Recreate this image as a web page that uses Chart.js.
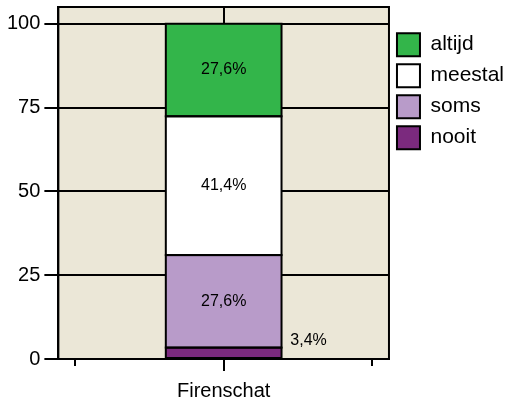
<!DOCTYPE html>
<html>
<head>
<meta charset="utf-8">
<script src="https://cdn.jsdelivr.net/npm/chart.js@4"></script>
<style>
  html, body { margin: 0; padding: 0; background: #fff; }
  #wrap { width: 506px; height: 403px; }
</style>
</head>
<body>
<div id="wrap"><canvas id="chart" width="506" height="403"></canvas></div>
<script>
const categories = ["Firenschat"];
const seriesNames = ["nooit", "soms", "meestal", "altijd"];
const nooit = [3.4];
const soms = [27.6];
const meestal = [41.4];
const altijd = [27.6];
const yTicks = [0, 25, 50, 75, 100];

const colors = {
    nooit: "#7b2a7e",
    soms: "#b89bc9",
    meestal: "#ffffff",
    altijd: "#33b54a",
};
const values = { nooit, soms, meestal, altijd };
const FONT = "'Liberation Sans', Arial, Helvetica, sans-serif";

// Plot background + frame
const framePlugin = {
    id: "frame",
    beforeDraw(chart) {
        const { ctx, chartArea: a } = chart;
        ctx.save();
        ctx.fillStyle = "#ebe7d7";
        ctx.fillRect(a.left, a.top, a.right - a.left, a.bottom - a.top);
        ctx.restore();
    },
    afterDraw(chart) {
        const { ctx, chartArea: a } = chart;
        ctx.save();
        ctx.strokeStyle = "#000";
        ctx.lineWidth = 2;
        ctx.strokeRect(a.left, a.top, a.right - a.left, a.bottom - a.top);
        // small extra ticks under the x axis
        const xs = chart.scales.x;
        const c = xs.getPixelForTick(0);
        const half = (a.right - a.left) * 0.45;
        ctx.beginPath();
        [c - half, c + half].forEach(x => {
            ctx.moveTo(Math.round(x), a.bottom);
            ctx.lineTo(Math.round(x), a.bottom + 7);
        });
        ctx.stroke();
        ctx.restore();
    },
};

// Outlines and percent labels on the segments
const labelPlugin = {
    id: "segLabels",
    afterDatasetsDraw(chart) {
        const { ctx } = chart;
        ctx.save();
        ctx.strokeStyle = "#000";
        ctx.lineWidth = 2;
        chart.data.datasets.forEach((ds, i) => {
            chart.getDatasetMeta(i).data.forEach(bar => {
                const l = bar.x - bar.width / 2;
                ctx.strokeRect(l, Math.min(bar.y, bar.base), bar.width, Math.abs(bar.base - bar.y));
            });
        });
        ctx.font = "16px " + FONT;
        ctx.fillStyle = "#000";
        ctx.textAlign = "center";
        ctx.textBaseline = "middle";
        chart.data.datasets.forEach((ds, i) => {
            const meta = chart.getDatasetMeta(i);
            meta.data.forEach((bar, j) => {
                const v = ds.data[j];
                const txt = v.toFixed(1).replace(".", ",") + "%";
                const mid = (bar.y + bar.base) / 2;
                if (v < 10) {
                    ctx.fillText(txt, bar.x + bar.width / 2 + 27, mid - 12);
                } else {
                    ctx.fillText(txt, bar.x, mid);
                }
            });
        });
        ctx.restore();
    },
};

new Chart(document.getElementById("chart"), {
    type: "bar",
    data: {
        labels: categories,
        datasets: seriesNames.map(name => ({
            label: name,
            data: values[name],
            backgroundColor: colors[name],
            borderWidth: 0,
            categoryPercentage: 1,
            barPercentage: 0.35,
        })),
    },
    options: {
        responsive: false,
        animation: false,
        layout: { padding: { top: 7, left: 3, right: -8, bottom: -8 } },
        plugins: {
            legend: {
                position: "right",
                align: "start",
                reverse: true,
                title: {
                    display: true,
                    text: "",
                    font: { size: 1 },
                    padding: { top: 17, bottom: 0 },
                },
                labels: {
                    boxWidth: 23,
                    boxHeight: 23,
                    padding: 8,
                    color: "#000",
                    font: { family: FONT, size: 21 },
                    generateLabels(chart) {
                        const items = Chart.defaults.plugins.legend.labels.generateLabels(chart);
                        return items.map(it => ({ ...it, strokeStyle: "#000", lineWidth: 2 }));
                    },
                },
            },
            tooltip: { enabled: false },
        },
        scales: {
            x: {
                stacked: true,
                afterFit(scale) {
                    scale.paddingLeft = 0;
                    scale.paddingRight = 0;
                },
                grid: {
                    offset: false,
                    color: "#000",
                    lineWidth: 2,
                    tickLength: 12,
                },
                border: { display: true, color: "#000", width: 2 },
                ticks: {
                    color: "#000",
                    font: { family: FONT, size: 20 },
                    padding: 8,
                },
            },
            y: {
                stacked: true,
                min: 0,
                max: 105,
                afterBuildTicks(scale) {
                    scale.ticks = yTicks.map(v => ({ value: v }));
                },
                afterFit(scale) {
                    scale.paddingTop = 0;
                },
                grid: {
                    color: "#000",
                    lineWidth: 2,
                    tickLength: 14,
                },
                border: { display: true, color: "#000", width: 2 },
                ticks: {
                    color: "#000",
                    font: { family: FONT, size: 20 },
                    padding: 4,
                },
            },
        },
    },
    plugins: [framePlugin, labelPlugin],
});
</script>
</body>
</html>
